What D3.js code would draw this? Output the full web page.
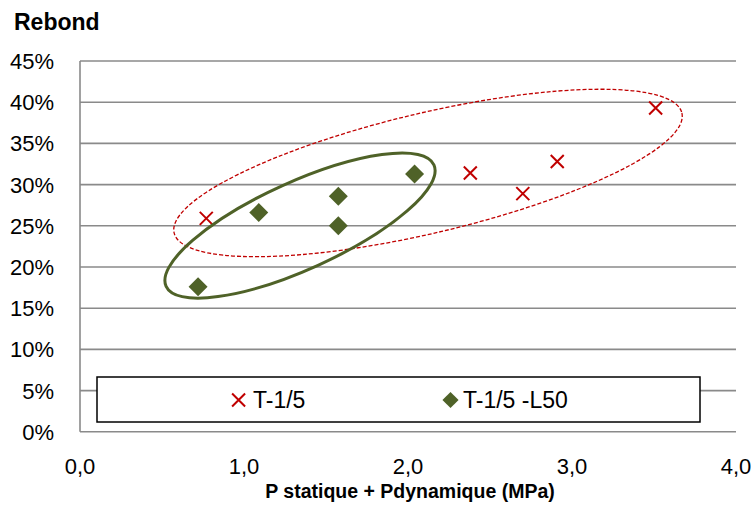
<!DOCTYPE html>
<html>
<head>
<meta charset="utf-8">
<script src="https://cdn.jsdelivr.net/npm/d3@7"></script>
<style>
  html, body { margin: 0; padding: 0; background: #fff; }
  svg { display: block; }
  text { font-family: "Liberation Sans", Arial, sans-serif; fill: #000; }
</style>
</head>
<body>
<svg id="chart" width="756" height="506"></svg>
<script>
// ---- data ----
const seriesNames = ["T-1/5", "T-1/5 -L50"];
const t15X = [0.77, 2.38, 2.70, 2.91, 3.51];
const t15Y = [25.9, 31.4, 28.9, 32.8, 39.3];
const l50X = [0.72, 1.09, 1.575, 1.575, 2.04];
const l50Y = [17.6, 26.6, 28.6, 25.0, 31.3];
const xTicks = [0, 1, 2, 3, 4];
const yTicks = [0, 5, 10, 15, 20, 25, 30, 35, 40, 45];
// grouping ellipses (data units): centre, end of major semi-axis, end of minor semi-axis
const ellipseL50 = { c: [1.3415, 25.03], major: [2.158, 32.40], minor: [1.4515, 20.21] };
const ellipseT15 = { c: [2.122, 31.41], major: [3.670, 38.69], minor: [2.206, 24.32] };

// ---- layout ----
const svg = d3.select("#chart");
const x = d3.scaleLinear().domain([0, 4]).range([80, 736]);
const y = d3.scaleLinear().domain([0, 45]).range([431.8, 61]);
const red = "#c00000", green = "#4f6228", grid = "#8a8a8a";

// gridlines
svg.append("g").selectAll("line").data(yTicks).join("line")
  .attr("x1", x(0)).attr("x2", x(4))
  .attr("y1", d => y(d)).attr("y2", d => y(d))
  .attr("stroke", grid).attr("stroke-width", 1.6);
// left axis line
svg.append("line").attr("x1", x(0)).attr("x2", x(0)).attr("y1", y(45)).attr("y2", y(0))
  .attr("stroke", grid).attr("stroke-width", 1.6);

// y tick labels
svg.append("g").selectAll("text").data(yTicks).join("text")
  .attr("x", 54).attr("y", d => y(d)).attr("dy", "0.36em")
  .attr("text-anchor", "end").style("font-size", "22px")
  .text(d => d + "%");
// x tick labels
const fmt = d => d3.format(".1f")(d).replace(".", ",");
svg.append("g").selectAll("text").data(xTicks).join("text")
  .attr("x", d => x(d)).attr("y", 474)
  .attr("text-anchor", "middle").style("font-size", "22px")
  .text(fmt);

// titles
svg.append("text").attr("x", 14).attr("y", 29.5)
  .style("font-size", "23px").style("font-weight", "bold").text("Rebond");
svg.append("text").attr("x", 410).attr("y", 498).attr("text-anchor", "middle")
  .style("font-size", "19.5px").style("font-weight", "bold")
  .text("P statique + Pdynamique (MPa)");

// markers
const crossPath = "M-6.5,-6.5L6.5,6.5M-6.5,6.5L6.5,-6.5";
const diamondPath = "M0,-9.5L9.5,0L0,9.5L-9.5,0Z";
svg.append("g").selectAll("path").data(d3.zip(t15X, t15Y)).join("path")
  .attr("transform", d => `translate(${x(d[0])},${y(d[1])})`)
  .attr("d", crossPath).attr("stroke", red).attr("stroke-width", 2).attr("fill", "none");
svg.append("g").selectAll("path").data(d3.zip(l50X, l50Y)).join("path")
  .attr("transform", d => `translate(${x(d[0])},${y(d[1])})`)
  .attr("d", diamondPath).attr("fill", green);

// ellipses
function drawEllipse(e, stroke, width, dash) {
  const cx = x(e.c[0]), cy = y(e.c[1]);
  const mx = x(e.major[0]) - cx, my = y(e.major[1]) - cy;
  const nx = x(e.minor[0]) - cx, ny = y(e.minor[1]) - cy;
  const a = Math.hypot(mx, my), b = Math.hypot(nx, ny);
  const ang = Math.atan2(my, mx) * 180 / Math.PI;
  svg.append("ellipse").attr("cx", cx).attr("cy", cy).attr("rx", a).attr("ry", b)
    .attr("transform", `rotate(${ang},${cx},${cy})`)
    .attr("fill", "none").attr("stroke", stroke).attr("stroke-width", width)
    .attr("stroke-dasharray", dash);
}
drawEllipse(ellipseT15, red, 1.3, "4,2");
drawEllipse(ellipseL50, green, 3, null);

// legend
const lg = svg.append("g");
lg.append("rect").attr("x", 97).attr("y", 377).attr("width", 603).attr("height", 45)
  .attr("fill", "#fff").attr("stroke", "#000").attr("stroke-width", 1.5);
lg.append("path").attr("transform", "translate(238.6,400)").attr("d", crossPath)
  .attr("stroke", red).attr("stroke-width", 2).attr("fill", "none");
lg.append("text").attr("x", 253).attr("y", 400).attr("dy", "0.36em").style("font-size", "23px").text(seriesNames[0]);
lg.append("path").attr("transform", "translate(450.5,400) scale(0.85)").attr("d", diamondPath).attr("fill", green);
lg.append("text").attr("x", 463).attr("y", 400).attr("dy", "0.36em").style("font-size", "23px").text(seriesNames[1]);
</script>
</body>
</html>
